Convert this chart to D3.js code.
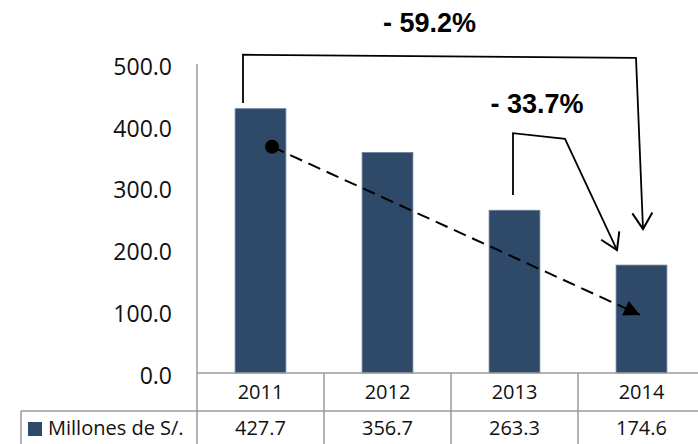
<!DOCTYPE html>
<html>
<head>
<meta charset="utf-8">
<script src="https://cdn.jsdelivr.net/npm/d3@7/dist/d3.min.js"></script>
<style>
  body { margin: 0; background: #fff; }
  svg { display: block; }
</style>
</head>
<body>
<div id="chart"></div>
<script>
var years = ["2011", "2012", "2013", "2014"];
var values = [427.7, 356.7, 263.3, 174.6];
var yTicks = [0, 100, 200, 300, 400, 500];
var seriesName = "Millones de S/.";

// callouts: [year, pixel offset from band centre, value]
var bigBracket = [["2011", -17.5, 437], ["2011", -17.5, 515], ["2014", -5.5, 510], ["2014", 1.5, 233]];
var smallBracket = [["2013", -1.5, 288], ["2013", -1.5, 388], ["2013", 50.5, 379], ["2014", -24.5, 199]];
var trendLine = [["2011", 11.5, 366], ["2014", -1.5, 94]];
var labels = [
  {text: "- 59.2%", year: "2012", dx: 42, v: 551},
  {text: "- 33.7%", year: "2013", dx: 22.5, v: 421}
];

var width = 698, height = 444;
var plotLeft = 197, plotRight = 705, plotBase = 373, plotTop = 64;
var tableRow = 411;

var svg = d3.select("#chart")
  .append("svg")
  .attr("width", width)
  .attr("height", height);

var defs = svg.append("defs");
defs.append("marker")
  .attr("id", "open")
  .attr("markerUnits", "userSpaceOnUse")
  .attr("viewBox", "-20 -14 24 28")
  .attr("markerWidth", 24)
  .attr("markerHeight", 28)
  .attr("refX", 0)
  .attr("refY", 0)
  .attr("orient", "auto")
  .append("path")
  .attr("d", "M-16,-10L0,0L-16,10")
  .attr("fill", "none")
  .attr("stroke", "#000")
  .attr("stroke-width", 2);

defs.append("marker")
  .attr("id", "solid")
  .attr("markerUnits", "userSpaceOnUse")
  .attr("viewBox", "-18 -10 20 20")
  .attr("markerWidth", 20)
  .attr("markerHeight", 20)
  .attr("refX", 0)
  .attr("refY", 0)
  .attr("orient", "auto")
  .append("path")
  .attr("d", "M-16,-8L0,0L-16,8Z")
  .attr("fill", "#000");

var x = d3.scaleBand()
  .domain(years)
  .range([plotLeft, plotRight])
  .paddingInner(0.6)
  .paddingOuter(0.3);

var col = d3.scaleBand()
  .domain(years)
  .range([plotLeft, plotRight])
  .padding(0);

var y = d3.scaleLinear()
  .domain([0, 500])
  .range([plotBase, plotTop]);

function pt(p) {
  return [x(p[0]) + x.bandwidth() / 2 + p[1], y(p[2])];
}

// y axis labels
var yAxis = d3.axisLeft(y)
  .tickValues(yTicks)
  .tickSize(0)
  .tickPadding(25)
  .tickFormat(d3.format(".1f"));

var ag = svg.append("g")
  .attr("transform", "translate(" + plotLeft + ",3)")
  .call(yAxis);
ag.select(".domain").remove();
ag.selectAll("text")
  .attr("fill", "#111")
  .style("font-family", "'Open Sans', sans-serif")
  .style("font-size", "23px");

// bars
svg.selectAll(".bar")
  .data(values)
  .enter()
  .append("rect")
  .attr("class", "bar")
  .attr("x", function(d, i) { return x(years[i]); })
  .attr("y", function(d) { return y(d); })
  .attr("width", x.bandwidth())
  .attr("height", function(d) { return y(0) - y(d); })
  .attr("fill", "#2F4A69")
  .attr("stroke", "#6A7F9C")
  .attr("stroke-width", 0.8);

// axis lines and table grid
var grid = "#9a9a9a";
svg.append("line")
  .attr("x1", plotLeft).attr("x2", width)
  .attr("y1", plotBase).attr("y2", plotBase)
  .attr("stroke", grid).attr("stroke-width", 1.5);
svg.append("line")
  .attr("x1", plotLeft).attr("x2", plotLeft)
  .attr("y1", plotTop).attr("y2", height)
  .attr("stroke", grid).attr("stroke-width", 1.5);
svg.append("line")
  .attr("x1", 21).attr("x2", width)
  .attr("y1", tableRow).attr("y2", tableRow)
  .attr("stroke", grid).attr("stroke-width", 1.5);
svg.append("line")
  .attr("x1", 21).attr("x2", 21)
  .attr("y1", tableRow).attr("y2", height)
  .attr("stroke", grid).attr("stroke-width", 1.5);
svg.selectAll(".sep")
  .data(years.slice(1))
  .enter()
  .append("line")
  .attr("x1", function(d) { return col(d); })
  .attr("x2", function(d) { return col(d); })
  .attr("y1", plotBase).attr("y2", height)
  .attr("stroke", grid).attr("stroke-width", 1.5);

// table text
svg.selectAll(".yr")
  .data(years)
  .enter()
  .append("text")
  .attr("x", function(d) { return col(d) + col.bandwidth() / 2; })
  .attr("y", 399)
  .attr("text-anchor", "middle")
  .style("font-family", "'Open Sans', sans-serif")
  .style("font-size", "20px")
  .attr("fill", "#111")
  .text(function(d) { return d; });

svg.selectAll(".val")
  .data(values)
  .enter()
  .append("text")
  .attr("x", function(d, i) { return col(years[i]) + col.bandwidth() / 2; })
  .attr("y", 435)
  .attr("text-anchor", "middle")
  .style("font-family", "'Open Sans', sans-serif")
  .style("font-size", "20px")
  .attr("fill", "#111")
  .text(function(d) { return d.toFixed(1); });

svg.append("rect")
  .attr("x", 28).attr("y", 422)
  .attr("width", 14).attr("height", 14)
  .attr("fill", "#2F4A69");
svg.append("text")
  .attr("x", 48).attr("y", 435)
  .style("font-family", "'Open Sans', sans-serif")
  .style("font-size", "20px")
  .attr("fill", "#111")
  .text(seriesName);

// callouts
var line = d3.line();
svg.append("path")
  .attr("d", line(bigBracket.map(pt)))
  .attr("fill", "none")
  .attr("stroke", "#000")
  .attr("stroke-width", 1.8)
  .attr("marker-end", "url(#open)");
svg.append("path")
  .attr("d", line(smallBracket.map(pt)))
  .attr("fill", "none")
  .attr("stroke", "#000")
  .attr("stroke-width", 1.8)
  .attr("marker-end", "url(#open)");

var tl = trendLine.map(pt);
svg.append("path")
  .attr("d", line(tl))
  .attr("fill", "none")
  .attr("stroke", "#000")
  .attr("stroke-width", 2)
  .attr("stroke-dasharray", "13,7")
  .attr("marker-end", "url(#solid)");
svg.append("circle")
  .attr("cx", tl[0][0]).attr("cy", tl[0][1])
  .attr("r", 7)
  .attr("fill", "#000");

svg.selectAll(".pct")
  .data(labels)
  .enter()
  .append("text")
  .attr("x", function(d) { return x(d.year) + x.bandwidth() / 2 + d.dx; })
  .attr("y", function(d) { return y(d.v); })
  .attr("text-anchor", "middle")
  .style("font-family", "'Liberation Sans', Arial, sans-serif")
  .style("font-weight", "bold")
  .style("font-size", "27px")
  .attr("fill", "#000")
  .text(function(d) { return d.text; });
</script>
</body>
</html>
